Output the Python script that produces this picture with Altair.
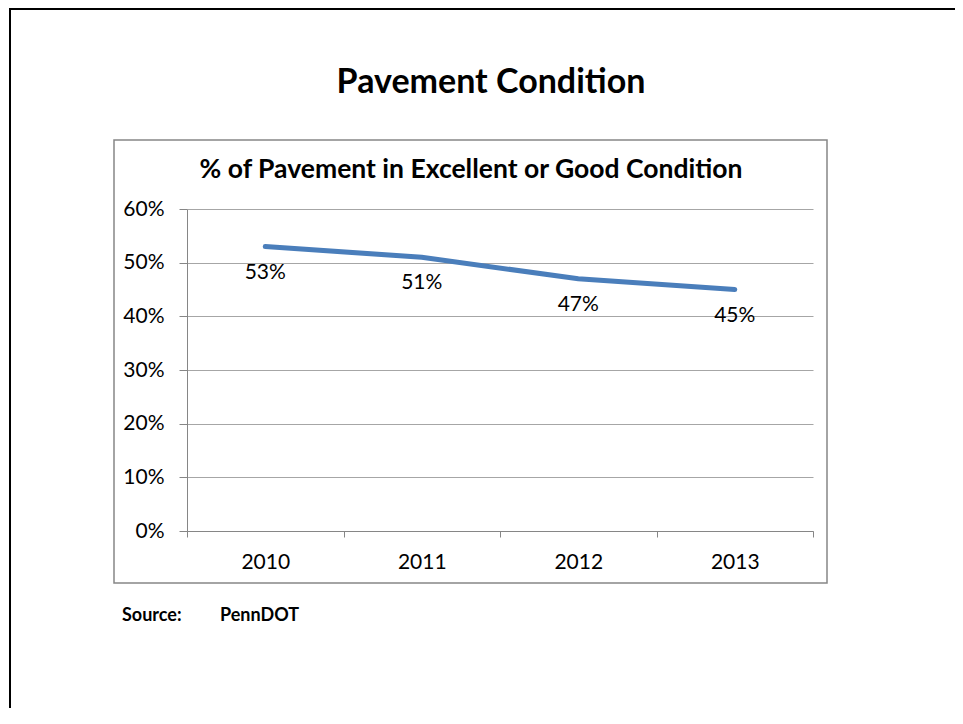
import altair as alt
import pandas as pd

years = ["2010", "2011", "2012", "2013"]
values = [0.53, 0.51, 0.47, 0.45]
y_ticks = [0, 0.1, 0.2, 0.3, 0.4, 0.5, 0.6]
main_title = "Pavement Condition"
chart_title = "% of Pavement in Excellent or Good Condition"
source_label = "Source:"
source_name = "PennDOT"

df = pd.DataFrame({"year": years, "value": values})
one = alt.Data(values=[{}])

FONT = "Lato"
GRID = "#a6a6a6"
AXIS = "#868686"
BLUE = "#4a7ebb"

x_enc = alt.X(
    "year:N",
    sort=years,
    scale=alt.Scale(paddingInner=0, paddingOuter=0),
    axis=alt.Axis(
        title=None, grid=False, tickBand="extent", tickSize=6, tickColor=AXIS,
        domainColor=AXIS, labelFont=FONT, labelFontSize=21, labelColor="black",
        labelPadding=14, labelAngle=0,
    ),
)
y_enc = alt.Y(
    "value:Q",
    scale=alt.Scale(domain=[0, 0.6], nice=False),
    axis=alt.Axis(
        title=None, values=y_ticks, format=".0%", grid=True, gridColor=GRID,
        tickSize=8, tickColor=AXIS, domainColor=AXIS, labelFont=FONT,
        labelFontSize=21, labelColor="black", labelPadding=15,
    ),
)

line = alt.Chart(df).mark_line(color=BLUE, strokeWidth=5, strokeCap="round").encode(x=x_enc, y=y_enc)
labels = alt.Chart(df).mark_text(font=FONT, fontSize=21, color="black", dy=26).encode(
    x=alt.X("year:N", sort=years), y="value:Q", text=alt.Text("value:Q", format=".0%")
)

box = alt.Chart(one).mark_rect(fillOpacity=0, stroke=AXIS, strokeWidth=1.5).encode(
    x=alt.value(-73), x2=alt.value(640), y=alt.value(-69), y2=alt.value(374)
)
frame_left = alt.Chart(one).mark_rule(color="black", strokeWidth=2).encode(
    x=alt.value(-177), y=alt.value(-200), y2=alt.value(520)
)
frame_top = alt.Chart(one).mark_rule(color="black", strokeWidth=2).encode(
    x=alt.value(-178), x2=alt.value(780), y=alt.value(-200)
)
t_main = alt.Chart(one).mark_text(font=FONT, fontSize=34, fontWeight="bold", color="black").encode(
    x=alt.value(304), y=alt.value(-126), text=alt.value(main_title)
)
t_chart = alt.Chart(one).mark_text(font=FONT, fontSize=26.5, fontWeight="bold", color="black").encode(
    x=alt.value(284), y=alt.value(-39), text=alt.value(chart_title)
)
t_src = alt.Chart(one).mark_text(font=FONT, fontSize=18, fontWeight="bold", color="black", align="left").encode(
    x=alt.value(-65), y=alt.value(407), text=alt.value(source_label)
)
t_src2 = alt.Chart(one).mark_text(font=FONT, fontSize=18, fontWeight="bold", color="black", align="left").encode(
    x=alt.value(33), y=alt.value(407), text=alt.value(source_name)
)

chart = alt.layer(
    frame_left, frame_top, box, t_main, t_chart, t_src, t_src2, line, labels
).properties(
    width=626, height=322,
    autosize=alt.AutoSizeParams(type="none"),
    padding={"left": 179, "top": 201, "right": 142, "bottom": 177},
    background="white",
).configure_view(strokeWidth=0)

chart.save("out.html", embed_options={"renderer": "svg", "actions": False})
